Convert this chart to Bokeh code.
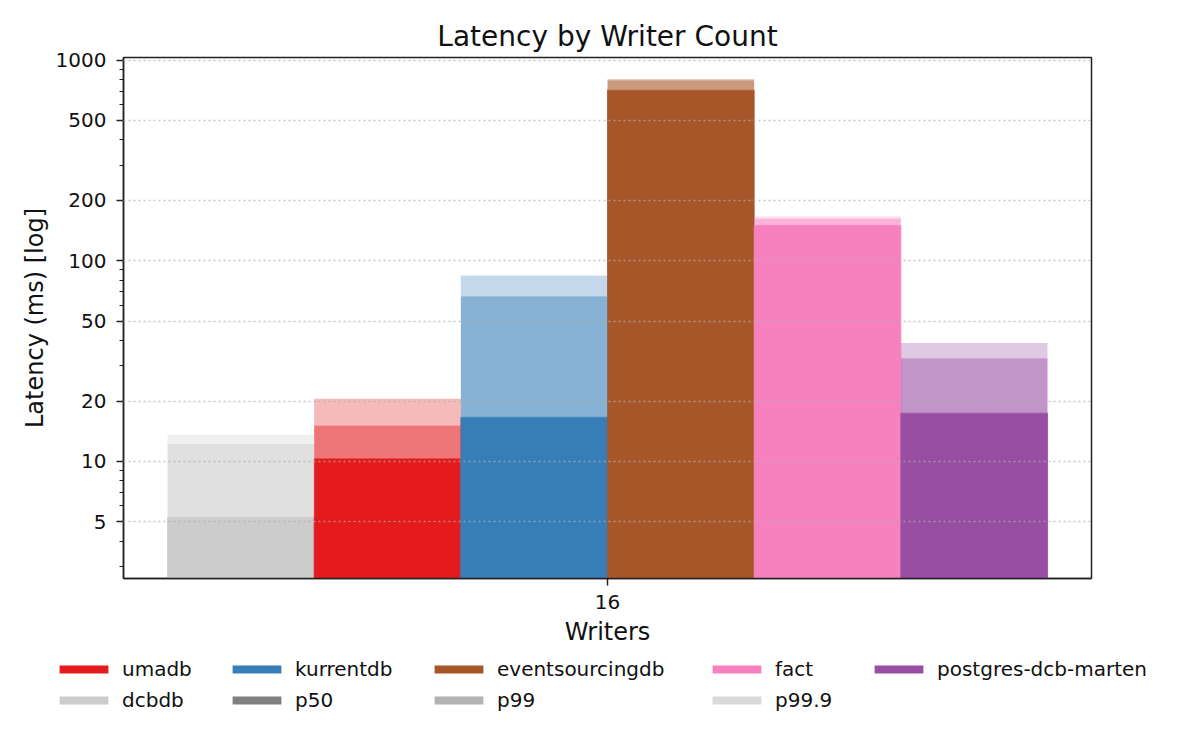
from bokeh.plotting import figure
from bokeh.layouts import column, row
from bokeh.models import ColumnDataSource, Range1d, FixedTicker, Legend, LegendItem
from bokeh.embed import file_html
from bokeh.resources import INLINE

# ---- data ----
writers = ["16"]
databases = ["dcbdb", "umadb", "kurrentdb", "eventsourcingdb", "fact", "postgres-dcb-marten"]
p50 = [5.26, 10.3, 16.6, 708, 150, 17.4]
p99 = [12.2, 15.1, 66.5, 794, 162, 32.7]
p999 = [13.6, 20.5, 84.5, 804, 166, 38.9]
colors = ["#cccccc", "#e41a1c", "#377eb8", "#a65628", "#f781bf", "#984ea3"]
pct_labels = ["p50", "p99", "p99.9"]
pct_alphas = [1.0, 0.6, 0.3]
pct_legend_color = "#808080"
y_ticks = [5, 10, 20, 50, 100, 200, 500, 1000]
y_tick_labels = ["5", "10", "20", "50", "100", "200", "500", "1000"]
# legend columns (top row, bottom row)
legend_columns = [("umadb", "dcbdb"), ("kurrentdb", "p50"), ("eventsourcingdb", "p99"),
                  ("fact", "p99.9"), ("postgres-dcb-marten", None)]

FONT = "DejaVu Sans"
n = len(databases)
group_width = 0.8
bar_w = group_width / n
y_floor = 1e-3
nan = float("nan")
W = 1184

xs = [0 + (i - (n - 1) / 2) * bar_w for i in range(n)]
src = ColumnDataSource(dict(
    x=xs, db=databases, color=colors,
    base=[y_floor] * n, p50=p50, p99=p99, p999=p999,
))

p = figure(width=W, height=650, output_backend="svg", toolbar_location=None,
           y_axis_type="log", x_range=Range1d(-0.44, 0.44), y_range=Range1d(2.61, 1030),
           title="Latency by Writer Count",
           min_border_left=123, min_border_right=93, min_border_top=57, min_border_bottom=72)

r50 = p.vbar(x="x", width=bar_w, bottom="base", top="p50", source=src,
             fill_color="color", fill_alpha=pct_alphas[0], line_color="color", line_width=0.8)
r99 = p.vbar(x="x", width=bar_w, bottom="p50", top="p99", source=src,
             fill_color="color", fill_alpha=pct_alphas[1], line_color=None)
r999 = p.vbar(x="x", width=bar_w, bottom="p99", top="p999", source=src,
              fill_color="color", fill_alpha=pct_alphas[2], line_color=None)

# title
p.title.text_font = FONT
p.title.text_font_size = "28px"
p.title.text_font_style = "normal"
p.title.text_color = "#111111"
p.title.align = "center"
p.title.standoff = 10

# axes
for ax in (p.xaxis[0], p.yaxis[0]):
    ax.axis_line_color = "#222222"
    ax.axis_line_width = 1.5
    ax.major_tick_line_color = "#222222"
    ax.major_tick_line_width = 1.5
    ax.minor_tick_line_color = "#222222"
    ax.minor_tick_line_width = 1.2
    ax.major_tick_in = 0
    ax.major_tick_out = 7
    ax.minor_tick_in = 0
    ax.minor_tick_out = 4
    ax.major_label_text_font = FONT
    ax.major_label_text_font_size = "20px"
    ax.major_label_text_color = "#111111"
    ax.axis_label_text_font = FONT
    ax.axis_label_text_font_size = "24px"
    ax.axis_label_text_font_style = "normal"
    ax.axis_label_text_color = "#111111"

p.xaxis.ticker = FixedTicker(ticks=[0], minor_ticks=[])
p.xaxis.major_label_overrides = {0: writers[0]}
p.xaxis.axis_label = "Writers"
p.xaxis.major_label_standoff = 9
p.xaxis.axis_label_standoff = 6

minor = [m * 10 ** k for k in range(0, 4) for m in range(2, 10)]
minor = [v for v in minor if v not in y_ticks]
p.yaxis.ticker = FixedTicker(ticks=y_ticks, minor_ticks=minor)
p.yaxis.major_label_overrides = {t: l for t, l in zip(y_ticks, y_tick_labels)}
p.yaxis.axis_label = "Latency (ms) [log]"
p.yaxis.major_label_standoff = 10
p.yaxis.axis_label_standoff = 4

# grid
p.xgrid.grid_line_color = None
p.ygrid.grid_line_color = "#b0b0b0"
p.ygrid.grid_line_alpha = 0.7
p.ygrid.grid_line_dash = "2 3"
p.ygrid.grid_line_width = 1.3
p.ygrid.level = "overlay"

p.outline_line_color = "#222222"
p.outline_line_width = 1.5
p.background_fill_color = "white"
p.border_fill_color = "white"

# ---- legend strip (separate canvas under the plot) ----
lg = figure(width=W, height=80, output_backend="svg", toolbar_location=None,
            x_axis_type=None, y_axis_type=None, x_range=Range1d(0, 1), y_range=Range1d(0, 1),
            min_border=0, min_border_left=0, min_border_right=0,
            min_border_top=0, min_border_bottom=0)
lg.outline_line_color = None
lg.xgrid.visible = False
lg.ygrid.visible = False
lg.background_fill_color = "white"
lg.border_fill_color = "white"

swatch_names = databases + pct_labels
swatch_src = ColumnDataSource(dict(
    x=[nan] * len(swatch_names), top=[nan] * len(swatch_names),
    color=colors + [pct_legend_color] * len(pct_labels),
    alpha=[1.0] * n + pct_alphas,
))
sw = lg.vbar(x="x", top="top", bottom=0, width=0.1, source=swatch_src,
             fill_color="color", fill_alpha="alpha", line_color=None)

# legend column offsets (screen px from the strip's left / bottom edge)
col_x = [53, 226, 428, 706, 868]
leg_y = 18
row_pitch = 31
for cx, col in zip(col_x, legend_columns):
    its = [LegendItem(label=nm, renderers=[sw], index=swatch_names.index(nm)) for nm in col if nm is not None]
    leg = Legend(items=its, orientation="vertical",
                 location=(cx, leg_y + (0 if len(its) == 2 else row_pitch)),
                 label_text_font=FONT, label_text_font_size="20px", label_text_color="#111111",
                 glyph_width=61, glyph_height=10, label_standoff=8, spacing=7,
                 label_height=24,
                 border_line_alpha=0, background_fill_alpha=0, padding=0, margin=0)
    lg.add_layout(leg)

layout = column(p, row(lg))
open("out.html", "w").write(file_html(layout, INLINE))
